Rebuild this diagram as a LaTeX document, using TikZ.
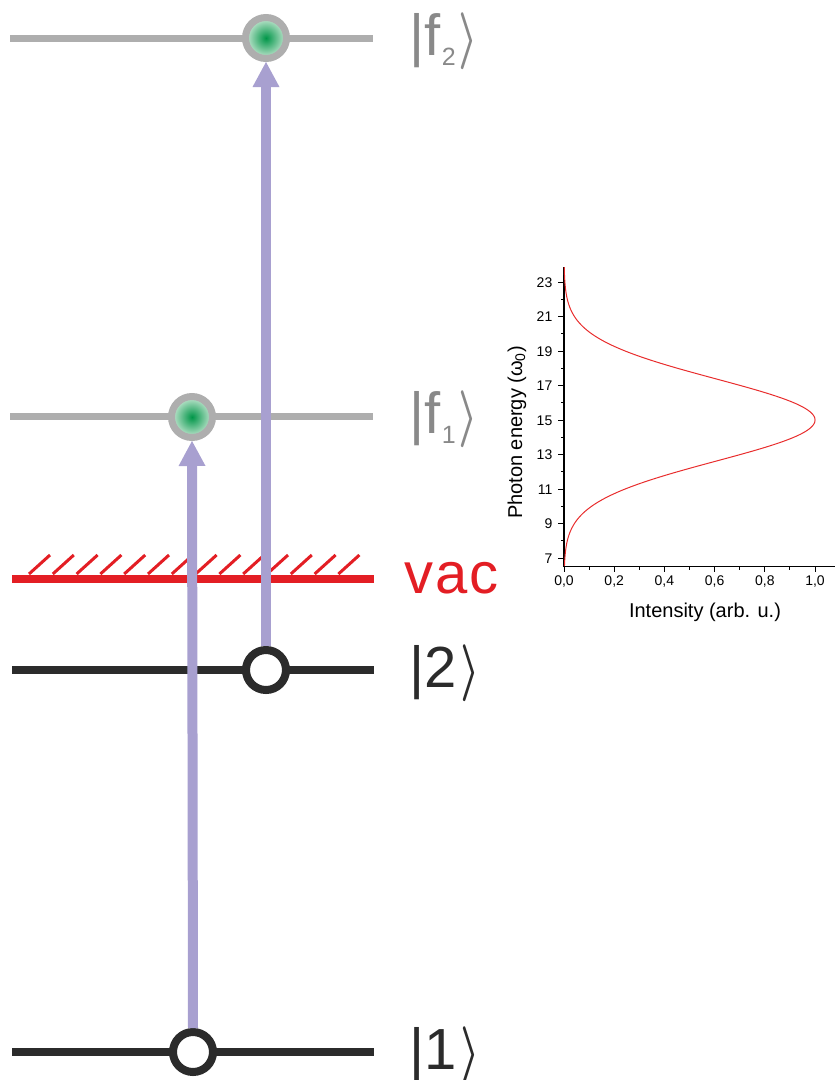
\documentclass[tikz,border=0pt]{standalone}
\usepackage{fontspec}
\setmainfont{Liberation Sans}
\usetikzlibrary{arrows.meta}
\definecolor{levgray}{RGB}{174,174,174}
\definecolor{labgray}{RGB}{137,137,137}
\definecolor{darkline}{RGB}{43,43,43}
\definecolor{vacred}{RGB}{227,30,36}
\definecolor{curvered}{RGB}{232,45,45}
\definecolor{arrpurple}{RGB}{168,160,208}
\definecolor{dotgreen}{RGB}{0,150,72}
\definecolor{dotlight}{RGB}{200,232,212}
\newcommand{\rket}{\kern3pt\scalebox{4.4}[5.7]{\fontsize{10}{12}\selectfont\boldmath$\rangle$}}
\newcommand{\ketsub}[1]{\kern1pt\raisebox{-10pt}{\fontsize{25}{25}\selectfont #1}}
\begin{document}
\begin{tikzpicture}[x=1pt,y=-1pt,
  fdot/.style={circle,draw=levgray,line width=7pt,inner color=dotgreen,outer color=dotlight,minimum size=41pt,inner sep=0pt},
  odot/.style={circle,draw=darkline,line width=8pt,fill=white,minimum size=40pt,inner sep=0pt},
  graylev/.style={draw=levgray,line width=7pt},
  darklev/.style={draw=darkline,line width=8pt},
  vaclev/.style={draw=vacred,line width=8pt},
  hatchline/.style={draw=vacred,line width=3pt},
  excite/.style={draw=arrpurple,line width=10pt,-{Triangle[width=27pt,length=25pt,line width=0pt]}},
  biglab/.style={inner sep=0pt,font=\fontsize{58}{60}\selectfont},
  ticklab/.style={inner sep=0pt,font=\fontsize{14}{16}\selectfont},
  axlab/.style={inner sep=0pt,font=\fontsize{20}{22}\selectfont},
  axisline/.style={draw=black,line width=1.5pt},
  tickline/.style={draw=black,line width=1pt},
  spectrum/.style={draw=curvered,line width=1pt}
]
\useasboundingbox (0,0) rectangle (836,1080);

% energy levels
\draw[graylev] (10,38) -- (373,38);
\draw[graylev] (10,416) -- (373,416);
\draw[vaclev] (12,579) -- (374,579);
\foreach \k in {0,...,13}
  \draw[hatchline] ({29+23.8*\k},574) -- ({50+23.8*\k},555);
\draw[darklev] (12,670) -- (374,670);
\draw[darklev] (12,1052) -- (374,1052);

% dots
\node[fdot] (cf2) at (266,38) {};
\node[fdot] (cf1) at (192,417) {};
\node[odot] (c2) at (266,670) {};
\node[odot] (c1) at (193,1052) {};

% transitions
\draw[excite] (c1.north) -- (cf1.south);
\draw[excite] (c2.north) -- (cf2.south);

% labels
\node[biglab,text=labgray,anchor=base west] (lf2) at (409.5,55) {|f\ketsub{2}\rket};
\node[biglab,text=labgray,anchor=base west] (lf1) at (409.5,433) {|f\ketsub{1}\rket};
\node[biglab,text=vacred,anchor=base west] (lvac) at (404,593) {v\kern2pt a\kern2pt c};
\node[biglab,text=darkline,anchor=base west] (l2) at (409.5,687) {|2\rket};
\node[biglab,text=darkline,anchor=base west] (l1) at (409.5,1069) {|1\rket};

% spectrum chart
\draw[axisline] (564,267) -- (564,566.5) -- (835,566.5);
\foreach \v in {7,9,...,23} {
  \draw[tickline] (564,{558-17.25*(\v-7)}) -- ++(-6,0);
  \node[ticklab,anchor=base east] (yl\v) at (552.5,{558-17.25*(\v-7)+5}) {\v};
}
\foreach \v in {8,10,...,22}
  \draw[tickline] (564,{558-17.25*(\v-7)}) -- ++(-3.5,0);
\foreach \i in {0,2,4,6,8} {
  \draw[tickline] ({564+25.1*\i},566) -- ++(0,6);
  \node[ticklab,anchor=base] (xl\i) at ({564+25.1*\i},585) {0,\i};
}
\draw[tickline] (815,566) -- ++(0,6);
\node[ticklab,anchor=base] (xl10) at (815,585) {1,0};
\foreach \i in {1,3,5,7,9}
  \draw[tickline] ({564+25.1*\i},566) -- ++(0,3.5);
\draw[spectrum] plot[domain=6.54:23.87,samples=300,smooth]
  ({564+251*exp(-1*(\x-15)*(\x-15)/11.33)},{558-17.25*(\x-7)});
\node[axlab,anchor=base] (xlab) at (705,617) {Intensity (arb. u.)};
\node[axlab,anchor=base,rotate=90] (ylab) at (522,432.5) {Photon energy (ω\textsubscript{0})};
\end{tikzpicture}
\end{document}
